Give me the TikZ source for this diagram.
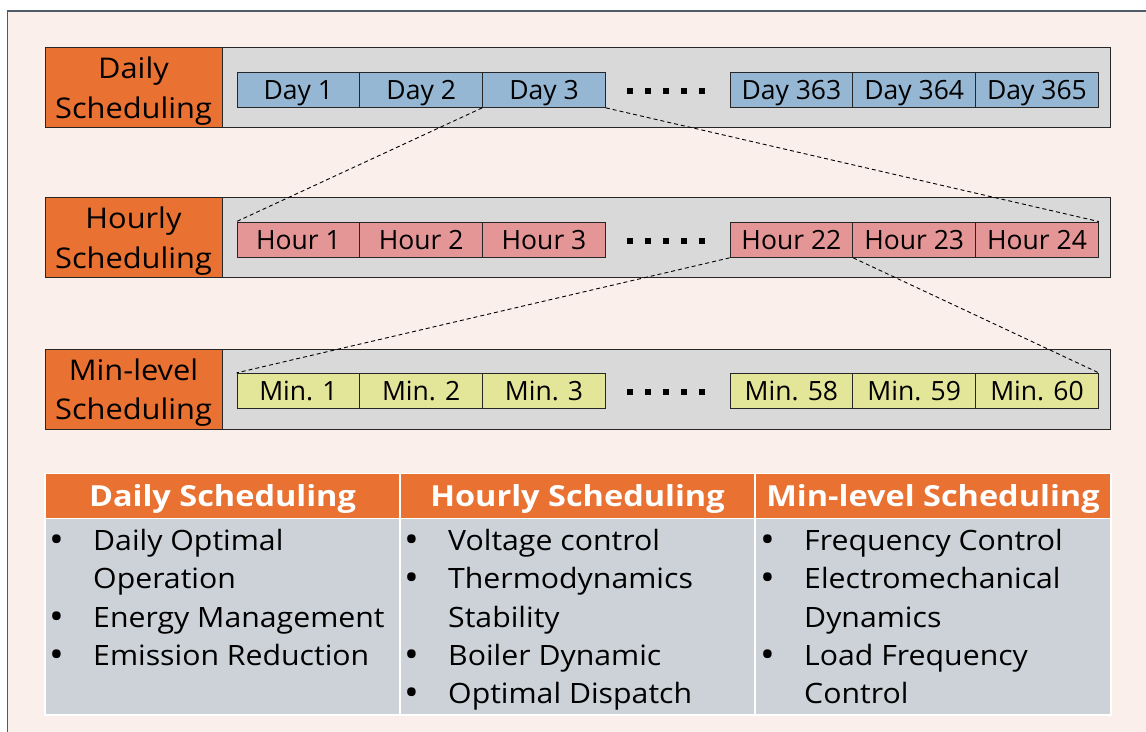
\documentclass[tikz,border=0pt]{standalone}
\usepackage{fontspec}
\setmainfont{Open Sans}
\newfontfamily\bodyfont{Open Sans}[FakeStretch=1.08]
\newfontfamily\labfont{Open Sans}[FakeStretch=1.08]
\newfontfamily\headfont{Open Sans}[FakeStretch=1.12]
\definecolor{bgc}{HTML}{FAEFEA}
\definecolor{framec}{HTML}{4F5B68}
\definecolor{orng}{HTML}{E97132}
\definecolor{rowgrey}{HTML}{D9D9D9}
\definecolor{dayc}{HTML}{95B7D3}
\definecolor{hourc}{HTML}{E49696}
\definecolor{minc}{HTML}{E3E599}
\definecolor{tblc}{HTML}{CDD2D8}
\newcommand{\bul}{\raisebox{-2pt}{\scalebox{1.3}{•}}}
\begin{document}
\begin{tikzpicture}[x=1pt,y=-1pt,
  lab/.style={fill=orng,draw=black!85,line width=0.8pt,minimum width=177pt,minimum height=80pt,inner sep=0pt},
  labtext/.style={inner sep=0pt,align=center,font=\labfont\fontsize{28.5}{39.4}\selectfont,yshift=-3.5pt},
  rowbox/.style={fill=rowgrey,draw=black!85,line width=0.8pt,minimum width=888pt,minimum height=80pt,inner sep=0pt},
  cell/.style={draw=black!85,line width=0.8pt,minimum width=122.8pt,minimum height=35.5pt,inner sep=0pt,
    text height=19pt,text depth=0pt,font=\fontsize{26.5}{30}\selectfont},
  dotsq/.style={fill=black,minimum size=5.5pt,inner sep=0pt},
  zoomline/.style={dash pattern=on 4pt off 3pt,line width=0.9pt},
  head/.style={fill=orng,draw=white,line width=1.5pt,minimum height=45pt,inner sep=0pt,
    text=white,text height=20.5pt,text depth=0pt,font=\headfont\fontsize{29}{30}\selectfont\bfseries},
  body/.style={fill=tblc,draw=white,line width=1.5pt,minimum height=197pt,inner sep=0pt},
  btext/.style={anchor=base west,inner sep=0pt,font=\bodyfont\fontsize{28}{38.2}\selectfont}
]
\useasboundingbox (0,0) rectangle (1146,731);
\fill[white] (0,0) rectangle (1146,731);
\draw[fill=bgc,draw=framec,line width=1.3pt] (7.5,11) rectangle (1170,760);

% Row 1: daily
\node[rowbox] (drow) at (666,87.5) {};
\node[lab] (dlab) at (133.5,87.5) {};
\node[labtext] (dlabt) at (dlab.center) {Daily\\Scheduling};
\node[cell,fill=dayc] (d1) at (298.4,89.7) {Day 1};
\node[cell,fill=dayc] (d2) at (421.2,89.7) {Day 2};
\node[cell,fill=dayc] (d3) at (544.0,89.7) {Day 3};
\node[cell,fill=dayc] (d363) at (791.4,89.7) {Day 363};
\node[cell,fill=dayc] (d364) at (914.2,89.7) {Day 364};
\node[cell,fill=dayc] (d365) at (1037.0,89.7) {Day 365};
\foreach \i/\x in {1/630,2/648,3/666,4/684,5/702} \node[dotsq] (dd\i) at (\x,91) {};

% Row 2: hourly
\node[rowbox] (hrow) at (666,237.5) {};
\node[lab] (hlab) at (133.5,237.5) {};
\node[labtext] (hlabt) at (hlab.center) {Hourly\\Scheduling};
\node[cell,fill=hourc] (h1) at (298.4,239.7) {Hour 1};
\node[cell,fill=hourc] (h2) at (421.2,239.7) {Hour 2};
\node[cell,fill=hourc] (h3) at (544.0,239.7) {Hour 3};
\node[cell,fill=hourc] (h22) at (791.4,239.7) {Hour 22};
\node[cell,fill=hourc] (h23) at (914.2,239.7) {Hour 23};
\node[cell,fill=hourc] (h24) at (1037.0,239.7) {Hour 24};
\foreach \i/\x in {1/630,2/648,3/666,4/684,5/702} \node[dotsq] (hd\i) at (\x,241) {};

% Row 3: minute
\node[rowbox] (mrow) at (666,389) {};
\node[lab] (mlab) at (133.5,389) {};
\node[labtext] (mlabt) at (mlab.center) {Min-level\\Scheduling};
\node[cell,fill=minc] (m1) at (298.4,391) {Min. 1};
\node[cell,fill=minc] (m2) at (421.2,391) {Min. 2};
\node[cell,fill=minc] (m3) at (544.0,391) {Min. 3};
\node[cell,fill=minc] (m58) at (791.4,391) {Min. 58};
\node[cell,fill=minc] (m59) at (914.2,391) {Min. 59};
\node[cell,fill=minc] (m60) at (1037.0,391) {Min. 60};
\foreach \i/\x in {1/630,2/648,3/666,4/684,5/702} \node[dotsq] (md\i) at (\x,392) {};

% zoom lines
\draw[zoomline] (d3.south west) -- (h1.north west);
\draw[zoomline] (d3.south east) -- (h24.north east);
\draw[zoomline] (h22.south west) -- (m1.north west);
\draw[zoomline] (h22.south east) -- (m60.north east);

% Table
\node[body,minimum width=355pt] (b1) at (222.5,616.5) {};
\node[body,minimum width=355pt] (b2) at (577.5,616.5) {};
\node[body,minimum width=356pt] (b3) at (933,616.5) {};
\node[head,minimum width=355pt] (t1) at (222.5,495.8) {Daily Scheduling};
\node[head,minimum width=355pt] (t2) at (577.5,495.8) {Hourly Scheduling};
\node[head,minimum width=356pt] (t3) at (933,495.8) {Min-level Scheduling};

\node[btext] (c1) at (49,550.7) {\begin{tabular}[t]{@{}p{44pt}@{}l@{}}
\bul&Daily Optimal\\
 &Operation\\
\bul&Energy Management\\
\bul&Emission Reduction
\end{tabular}};
\node[btext] (c2) at (404,550.7) {\begin{tabular}[t]{@{}p{44pt}@{}l@{}}
\bul&Voltage control\\
\bul&Thermodynamics\\
 &Stability\\
\bul&Boiler Dynamic\\
\bul&Optimal Dispatch
\end{tabular}};
\node[btext] (c3) at (760,550.7) {\begin{tabular}[t]{@{}p{44pt}@{}l@{}}
\bul&Frequency Control\\
\bul&Electromechanical\\
 &Dynamics\\
\bul&Load Frequency\\
 &Control
\end{tabular}};
\end{tikzpicture}
\end{document}
